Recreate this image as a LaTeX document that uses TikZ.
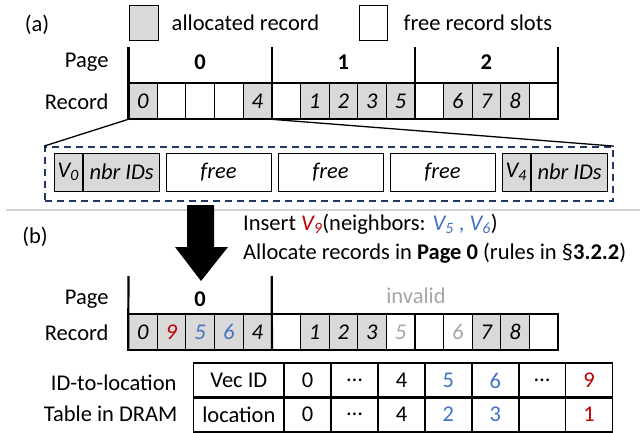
\documentclass[tikz,border=0pt]{standalone}
\usepackage{fontspec}
\setmainfont{Carlito}
\usepackage{tikz}
\usetikzlibrary{positioning, calc}
\usepackage{xcolor}
\definecolor{recgray}{RGB}{217, 217, 217}
\definecolor{navyline}{RGB}{32, 56, 100}
\definecolor{newred}{RGB}{192, 0, 0}
\definecolor{nbrblue}{RGB}{68, 114, 196}
\definecolor{fadegray}{RGB}{166, 166, 166}
\definecolor{sepgray}{RGB}{210, 210, 210}

\tikzset{
  rec/.style={draw, line width=0.7pt, minimum width=28.63pt, minimum height=36pt,
    inner sep=0pt, execute at begin node=\itshape},
  used/.style={rec, fill=recgray},
  cell/.style={draw, line width=0.9pt, minimum height=38pt, inner sep=0pt,
    execute at begin node=\itshape},
  tab/.style={draw, line width=1.6pt, minimum width=46.9pt, minimum height=34.5pt, inner sep=0pt},
  frame/.style={line width=2.2pt},
  lbl/.style={anchor=east}
}

\begin{document}
\begin{tikzpicture}[x=1pt, y=-1pt, font=\fontsize{22.5}{26}\selectfont]
  \useasboundingbox (0,0) rectangle (640,433);

  % legend
  \node at (37,25) {(a)};
  \node[draw, fill=recgray, minimum width=29pt, minimum height=35pt, inner sep=0pt] (legused) at (143.5,22.5) {};
  \node[right=10pt of legused] {allocated record};
  \node[draw, minimum width=28pt, minimum height=35pt, inner sep=0pt] (legfree) at (373,22.5) {};
  \node[right=13pt of legfree] {free record slots};

  % (a) pages and records
  \node[lbl] at (112,62) {Page};
  \node[lbl] at (112,102) {Record};
  \foreach \p in {0,1,2}
    \node at ({200.1+143.17*\p},62) {\bfseries \p};
  \foreach \i/\lab/\sty in {0/0/used, 1//rec, 2//rec, 3//rec, 4/4/used,
      5//rec, 6/1/used, 7/2/used, 8/3/used, 9/5/used,
      10//rec, 11/6/used, 12/7/used, 13/8/used, 14//rec}
    \node[\sty] (a\i) at ({128.5+28.63*(\i+0.5)},101) {\lab};
  \draw[frame] (a0.north west) rectangle (a14.south east);
  \foreach \x in {128.5,271.67,414.83,558}
    \draw[frame] (\x,47) -- (\x,119);

  % page 0 in detail
  \node[draw=navyline, dashed, line width=1.8pt, dash pattern=on 7pt off 5pt,
    minimum width=568pt, minimum height=54pt] (zoom) at (329,174) {};
  \draw[line width=1.3pt] (a0.south west) -- (zoom.north west);
  \draw[line width=1.3pt] (a4.south east) -- (zoom.north east);
  \node[cell, fill=recgray, minimum width=28.5pt] (v0) at (68.25,172) {V\textsubscript{0}};
  \node[cell, fill=recgray, minimum width=76.5pt, right=0pt of v0] (n0) {nbr IDs};
  \node[cell, minimum width=105pt] (f1) at (218.5,172) {free};
  \node[cell, minimum width=105pt] (f2) at (330.5,172) {free};
  \node[cell, minimum width=105pt] (f3) at (442.5,172) {free};
  \node[cell, fill=recgray, minimum width=28.5pt] (v4) at (516.25,172) {V\textsubscript{4}};
  \node[cell, fill=recgray, minimum width=76.5pt, right=0pt of v4] (n4) {nbr IDs};

  % separator
  \draw[sepgray, line width=2.5pt] (6,210) -- (640,210);

  % insert arrow
  \fill (187,205) -- (214,205) -- (214,247) -- (228,247) -- (201,281)
    -- (175,247) -- (187,247) -- cycle;
  \node at (35,237) {(b)};
  \node[anchor=west, inner sep=0pt] (ins) at (243,224)
    {Insert \textcolor{newred}{\textit{V\textsubscript{9}}}(neighbors: \textcolor{nbrblue}{\textit{V\textsubscript{5}} , \textit{V\textsubscript{6}}})};
  \node[anchor=west, inner sep=0pt] (alloc) at (243,253)
    {Allocate records in \textbf{Page 0} (rules in §\textbf{3.2.2})};

  % (b) pages and records
  \node[lbl] at (112,299) {Page};
  \node[lbl] at (112,333) {Record};
  \node at (200.1,299) {\bfseries 0};
  \node[fadegray] at (416,296) {invalid};
  \foreach \i/\lab/\sty/\col in {0/0/used/black, 1/9/used/newred, 2/5/used/nbrblue,
      3/6/used/nbrblue, 4/4/used/black, 5//rec/black, 6/1/used/black, 7/2/used/black,
      8/3/used/black, 9/5/rec/fadegray, 10//rec/black, 11/6/rec/fadegray,
      12/7/used/black, 13/8/used/black, 14//rec/black}
    \node[\sty, text=\col] (b\i) at ({128.5+28.63*(\i+0.5)},332) {\lab};
  \draw[frame] (b0.north west) rectangle (b14.south east);
  \draw[frame] (128.5,276) -- (b0.south west);
  \draw[frame] (271.67,276) -- (b4.south east);
  \draw[frame] (b9.north east) -- (b9.south east);

  % ID-to-location table
  \node[lbl] at (180,383) {ID-to-location};
  \node[lbl] at (181,414) {Table in DRAM};
  \node[tab, minimum width=90.7pt] (hid) at (238.85,380.5) {Vec ID};
  \node[tab, minimum width=90.7pt] (hloc) at (238.85,414.5) {location};
  \foreach \j/\id/\loc/\col in {0/0/0/black, 1/\dots/\dots/black, 2/4/4/black,
      3/5/2/nbrblue, 4/6/3/nbrblue, 5/\dots//black, 6/9/1/newred} {
    \node[tab, text=\col] (id\j) at ({284.2+46.9*(\j+0.5)},380.5) {\id};
    \node[tab, text=\col] (loc\j) at ({284.2+46.9*(\j+0.5)},414.5) {\loc};
  }
\end{tikzpicture}
\end{document}
